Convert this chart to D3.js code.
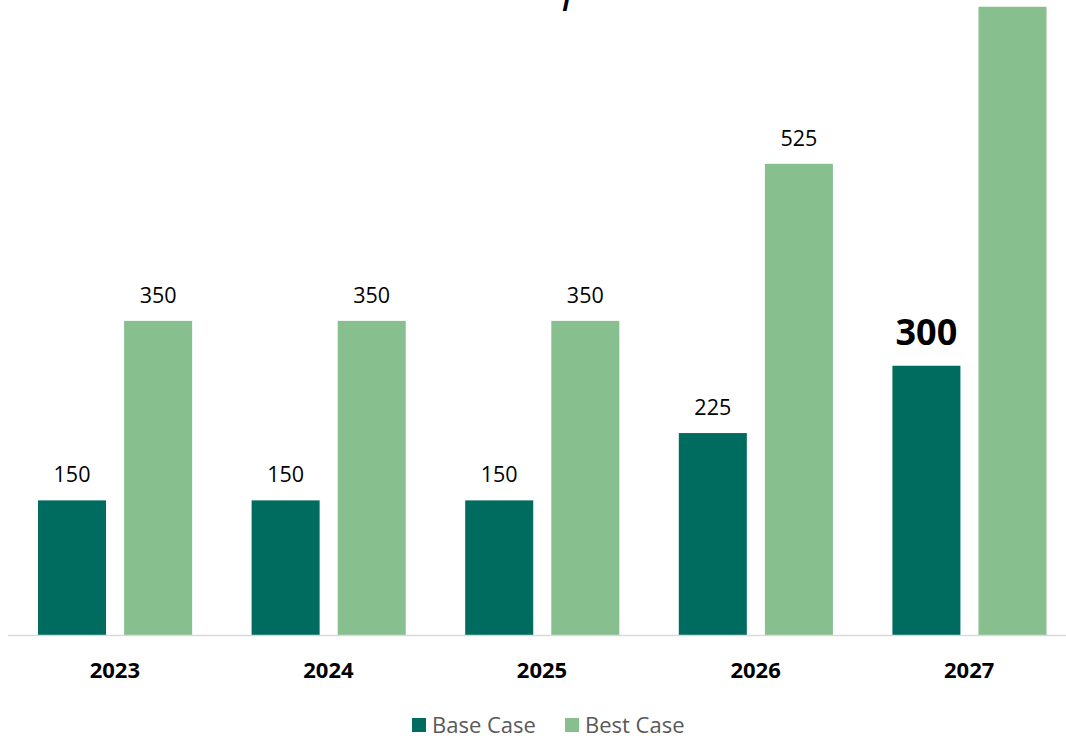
<!DOCTYPE html>
<html>
<head>
<meta charset="utf-8">
<script src="https://cdn.jsdelivr.net/npm/d3@7/dist/d3.min.js"></script>
<style>
  html, body { margin: 0; padding: 0; background: #ffffff; overflow: hidden; }
  svg { display: block; font-family: "Open Sans", "Noto Sans", sans-serif; }
</style>
</head>
<body>
<svg id="chart" width="1066" height="736"></svg>
<script>
// Scenario values by year
const years = ["2023", "2024", "2025", "2026", "2027"];
const seriesNames = ["Base Case", "Best Case"];
const baseCase = [150, 150, 150, 225, 300];
const bestCase = [350, 350, 350, 525, 700];
const titleText = "Incremental Revenue Impact Forecast";

const colors = { "Base Case": "#006b5f", "Best Case": "#88bf8f" };

const W = 1066, H = 736;
const svg = d3.select("#chart");

const x0 = d3.scaleBand().domain(years).range([8, 1076]).padding(0);
const step = x0.bandwidth();
const x1 = d3.scaleBand().domain(seriesNames)
  .range([step * 0.1405, step * 0.862])
  .paddingInner(0.21).paddingOuter(0);
const y = d3.scaleLinear().domain([0, 700]).range([635, 6.75]);

const rows = years.map((yr, i) => ({
  year: yr,
  values: [
    { key: "Base Case", value: baseCase[i], idx: i },
    { key: "Best Case", value: bestCase[i], idx: i }
  ]
}));

// Title, running off the top edge
svg.append("g")
  .attr("transform", "translate(455,0)")
  .append("text")
  .attr("x", 0).attr("y", 0)
  .attr("text-anchor", "middle")
  .attr("font-style", "italic")
  .attr("font-size", 46)
  .attr("fill", "#000")
  .text(titleText);

// Bars
const groups = svg.append("g").selectAll("g")
  .data(rows).join("g")
  .attr("transform", d => `translate(${x0(d.year)},0)`);

groups.selectAll("rect")
  .data(d => d.values).join("rect")
  .attr("x", d => x1(d.key))
  .attr("y", d => y(d.value))
  .attr("width", x1.bandwidth())
  .attr("height", d => y(0) - y(d.value))
  .attr("fill", d => colors[d.key]);

// Value labels
groups.selectAll("text.val")
  .data(d => d.values).join("text")
  .attr("class", "val")
  .attr("x", d => x1(d.key) + x1.bandwidth() / 2)
  .attr("text-anchor", "middle")
  .each(function (d) {
    const t = d3.select(this);
    const last = d.idx === years.length - 1;
    if (last && d.key === "Base Case") {
      t.attr("y", y(d.value) - 21).attr("font-size", 36).attr("font-weight", 700).attr("fill", "#000");
    } else if (last && d.key === "Best Case") {
      t.attr("y", y(d.value) - 6.5).attr("font-size", 36).attr("font-weight", 700).attr("fill", "#f6c08a");
    } else {
      t.attr("y", y(d.value) - 18).attr("font-size", 21.5).attr("fill", "#000");
    }
  })
  .text(d => d.value);

// Category axis
const xAxis = svg.append("g")
  .attr("transform", `translate(0,${y(0)})`)
  .call(d3.axisBottom(x0).tickSize(0).tickPadding(0));
xAxis.select(".domain").attr("stroke", "#d9d9d9").attr("stroke-width", 1.5)
  .attr("d", `M8,0.5H${W}`);
xAxis.selectAll(".tick text")
  .attr("dy", 0).attr("y", 43)
  .attr("font-family", "\"Open Sans\", \"Noto Sans\", sans-serif")
  .attr("font-size", 22).attr("font-weight", 700).attr("fill", "#000");

// Legend
const legend = svg.append("g").attr("transform", "translate(412,733)");
const legendX = [0, 153];
seriesNames.forEach((name, i) => {
  const g = legend.append("g").attr("transform", `translate(${legendX[i]},0)`);
  g.append("rect").attr("x", 0).attr("y", -15).attr("width", 14).attr("height", 14).attr("fill", colors[name]);
  g.append("text").attr("x", 20).attr("y", 0).attr("font-size", 22).attr("fill", "#595959").text(name);
});
</script>
</body>
</html>
